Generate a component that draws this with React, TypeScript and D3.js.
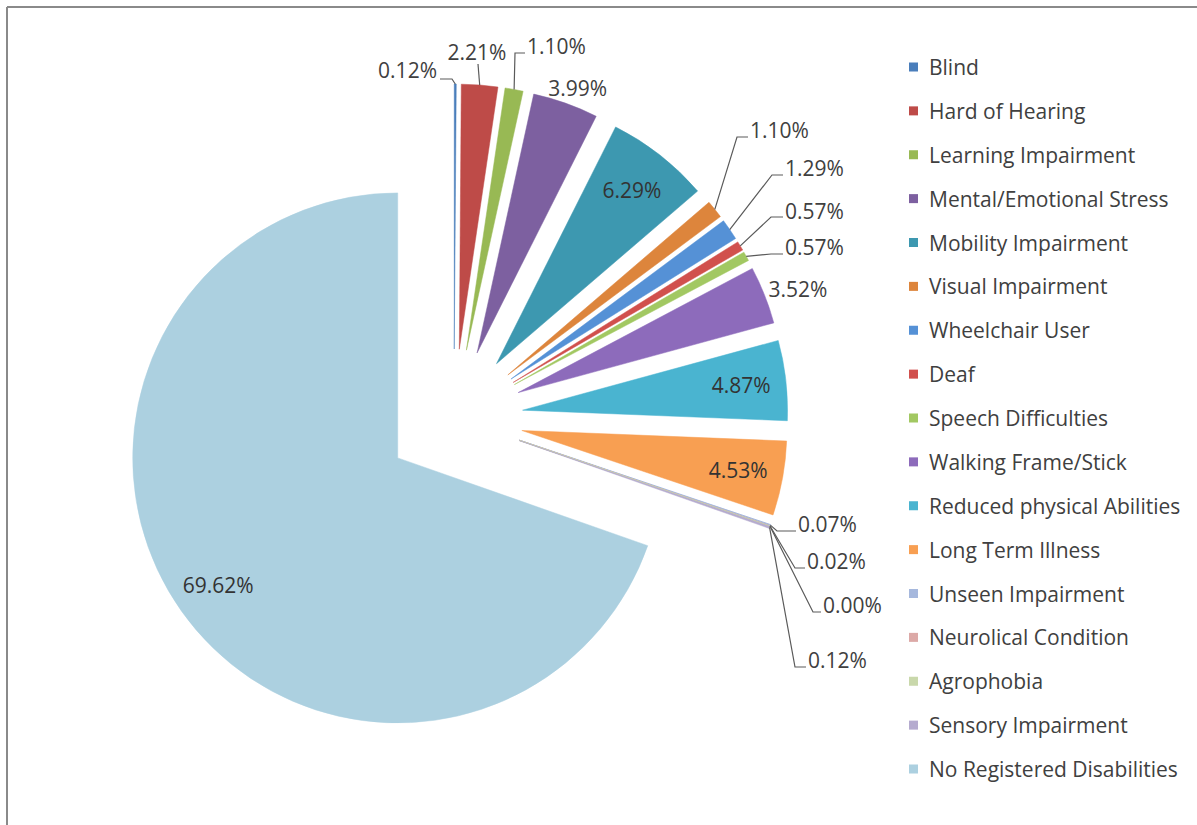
import React from 'react';
import * as d3 from 'd3';

const categories = [
  'Blind', 'Hard of Hearing', 'Learning Impairment', 'Mental/Emotional Stress',
  'Mobility Impairment', 'Visual Impairment', 'Wheelchair User', 'Deaf',
  'Speech Difficulties', 'Walking Frame/Stick', 'Reduced physical Abilities',
  'Long Term Illness', 'Unseen Impairment', 'Neurolical Condition', 'Agrophobia',
  'Sensory Impairment', 'No Registered Disabilities',
];

const shares = [
  0.12, 2.21, 1.10, 3.99, 6.29, 1.10, 1.29, 0.57, 0.57, 3.52, 4.87, 4.53,
  0.07, 0.02, 0.00, 0.12, 69.62,
];

const colors = [
  '#4a7ebb', '#be4b48', '#98b954', '#7d60a0', '#3d98b0', '#dd853c',
  '#5591d6', '#d1504d', '#a2c862', '#8d6bbb', '#4ab4d0', '#f89f52',
  '#a6b8dd', '#dca9a7', '#c9d8ab', '#b5abcf', '#acd0e0',
];

// how Excel placed each data label: inside the slice, just outside it,
// or off to the side with a leader line (text position + leader bend)
type LabelSpec =
  | { mode: 'inside' }
  | { mode: 'outside' }
  | { mode: 'leader'; x: number; y: number; anchor: 'start' | 'end' | 'middle'; bend: [number, number][] };

const labelSpecs: LabelSpec[] = [
  { mode: 'leader', x: 437, y: 70, anchor: 'end', bend: [[452, 79], [440, 79]] },
  { mode: 'leader', x: 477, y: 52, anchor: 'middle', bend: [[478, 64]] },
  { mode: 'leader', x: 527, y: 46, anchor: 'start', bend: [[515, 53], [525, 53]] },
  { mode: 'outside' },
  { mode: 'inside' },
  { mode: 'leader', x: 750, y: 130, anchor: 'start', bend: [[737, 137], [748, 137]] },
  { mode: 'leader', x: 785, y: 168, anchor: 'start', bend: [[772, 175], [783, 175]] },
  { mode: 'leader', x: 785, y: 211, anchor: 'start', bend: [[771, 217], [783, 217]] },
  { mode: 'leader', x: 785, y: 247, anchor: 'start', bend: [[771, 254], [783, 254]] },
  { mode: 'outside' },
  { mode: 'inside' },
  { mode: 'inside' },
  { mode: 'leader', x: 798, y: 524, anchor: 'start', bend: [[777, 531], [796, 531]] },
  { mode: 'leader', x: 807, y: 561, anchor: 'start', bend: [[795, 568], [805, 568]] },
  { mode: 'leader', x: 823, y: 605, anchor: 'start', bend: [[813, 612], [821, 612]] },
  { mode: 'leader', x: 808, y: 660, anchor: 'start', bend: [[795, 667], [806, 667]] },
  { mode: 'inside' },
];

const W = 1197;
const H = 825;
const cx = 454;
const cy = 418;
const radius = 265;
const explode = 69;
const font = '"Open Sans", Lato, sans-serif';
const fontSize = 21;
const textColor = '#404040';

type Datum = { name: string; value: number; color: string; spec: LabelSpec };

const data: Datum[] = categories.map((name, i) => ({
  name, value: shares[i], color: colors[i], spec: labelSpecs[i],
}));

const App: React.FC = () => {
  const pie = d3.pie<Datum>().sort(null).value(d => d.value);
  const arcs = pie(data);
  const arc = d3.arc<d3.PieArcDatum<Datum>>().innerRadius(0).outerRadius(radius);

  const legendY = d3.scalePoint<string>().domain(categories).range([67, 769]);

  return (
    <div style={{ position: 'absolute', left: 0, top: 0 }}>
      <svg width={W} height={H} style={{ display: 'block', background: '#fff' }}>
        <line x1={7} y1={7} x2={W} y2={7} stroke="#8a8a8a" strokeWidth={2} />
        <line x1={7} y1={7} x2={7} y2={H} stroke="#8a8a8a" strokeWidth={2} />

        {arcs.map((a, i) => {
          const mid = (a.startAngle + a.endAngle) / 2;
          const ox = cx + explode * Math.sin(mid);
          const oy = cy - explode * Math.cos(mid);
          return (
            <g key={i} transform={`translate(${ox},${oy})`}>
              <path d={arc(a) || ''} fill={a.data.color} stroke={a.data.color} strokeWidth={a.value < 0.1 ? 1 : 0.5} />
            </g>
          );
        })}

        {arcs.map((a, i) => {
          const mid = (a.startAngle + a.endAngle) / 2;
          const dx = Math.sin(mid);
          const dy = -Math.cos(mid);
          const ox = cx + explode * dx;
          const oy = cy + explode * dy;
          const text = `${a.data.value.toFixed(2)}%`;
          const spec = a.data.spec;
          if (spec.mode === 'inside') {
            const lr = radius * 0.83;
            return (
              <text key={i} x={ox + lr * dx} y={oy + lr * dy} textAnchor="middle" dominantBaseline="central"
                fontFamily={font} fontSize={fontSize} fill="#333">{text}</text>
            );
          }
          if (spec.mode === 'outside') {
            const lr = radius + 6;
            const tx = ox + lr * dx + 30 * dx;
            const ty = oy + lr * dy + 10 * dy;
            return (
              <text key={i} x={tx} y={ty} textAnchor="middle" dominantBaseline="central"
                fontFamily={font} fontSize={fontSize} fill={textColor}>{text}</text>
            );
          }
          const ax = ox + radius * dx;
          const ay = oy + radius * dy;
          const pts: [number, number][] = [[ax, ay], ...spec.bend];
          return (
            <g key={i}>
              <path d={d3.line()(pts) || ''} fill="none" stroke="#5a5a5a" strokeWidth={1.2} />
              <text x={spec.x} y={spec.y} textAnchor={spec.anchor} dominantBaseline="central"
                fontFamily={font} fontSize={fontSize} fill={textColor}>{text}</text>
            </g>
          );
        })}

        {categories.map((c, i) => (
          <g key={c} transform={`translate(0,${legendY(c)})`}>
            <rect x={909} y={-4.5} width={9} height={9} fill={colors[i]} />
            <text x={929} y={0} dominantBaseline="central" fontFamily={font} fontSize={fontSize} fill={textColor}>{c}</text>
          </g>
        ))}
      </svg>
    </div>
  );
};

export default App;
